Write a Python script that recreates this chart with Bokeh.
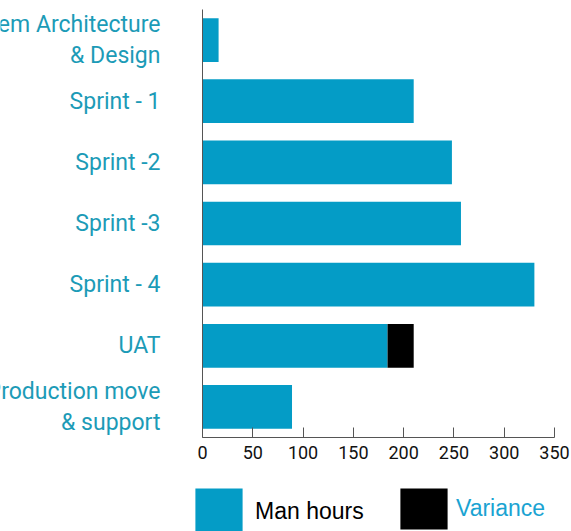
from bokeh.plotting import figure
from bokeh.layouts import column, row
from bokeh.models import (FactorRange, Range1d, ColumnDataSource, LinearAxis,
                          Legend, LegendItem, FixedTicker)
from bokeh.core.properties import value
from bokeh.embed import file_html
from bokeh.resources import INLINE

# ---- data ----
categories = ["System Architecture\n& Design", "Sprint - 1", "Sprint -2",
              "Sprint -3", "Sprint - 4", "UAT", "Production move\n& support"]
man_hours = [16, 210, 248, 257, 330, 184, 89]
variance = [0, 0, 0, 0, 0, 26, 0]
x_ticks = [0, 50, 100, 150, 200, 250, 300, 350]
series_names = ["Man hours", "Variance"]

# ---- style ----
BLUE = "#049CC6"
BLACK = "#000000"
LABEL_TEAL = "#1C9BB7"
VAR_TEXT = "#1AA3D2"
AXIS_GREY = "#555555"
X_START, X_END = 0, 350
LAB_END = 1.0

src = ColumnDataSource(dict(cat=categories, man_hours=man_hours, variance=variance,
                            lx=[LAB_END] * len(categories)))
y_range = FactorRange(factors=list(reversed(categories)))

ROW_H = 470
TOP, BOTTOM = 9, 33
LAB_W = 190

def bare(fig):
    fig.outline_line_color = None
    fig.background_fill_color = "white"
    fig.border_fill_color = "white"
    fig.xgrid.visible = False
    fig.ygrid.visible = False

# ---- category labels (own figure so long texts clip at the page edge) ----
lab = figure(width=LAB_W, height=ROW_H, output_backend="svg", toolbar_location=None,
             title=None, x_range=Range1d(0, LAB_END), y_range=y_range,
             x_axis_location=None, y_axis_location=None,
             min_border_left=0, min_border_right=0,
             min_border_top=TOP, min_border_bottom=BOTTOM)
bare(lab)
lab.text(x="lx", y="cat", text="cat", source=src, x_offset=-30,
         text_align="right", text_baseline="middle",
         text_font=value("Roboto"), text_font_size="23px",
         text_color=LABEL_TEAL, text_line_height=1.15)

# ---- main chart ----
p = figure(width=571 - LAB_W, height=ROW_H, output_backend="svg", toolbar_location=None,
           title=None, y_range=y_range, x_range=Range1d(X_START, X_END),
           y_axis_location=None,
           min_border_left=12, min_border_right=17,
           min_border_top=TOP, min_border_bottom=BOTTOM)
bare(p)
rs = p.hbar_stack(["man_hours", "variance"], y="cat", height=0.715,
                  color=[BLUE, BLACK], line_color=None, source=src)

xa = p.xaxis[0]
xa.ticker = FixedTicker(ticks=x_ticks)
xa.axis_line_color = AXIS_GREY
xa.major_tick_line_color = AXIS_GREY
xa.major_tick_in = 10
xa.major_tick_out = 0
xa.minor_tick_line_color = None
xa.major_label_text_font = "Roboto"
xa.major_label_text_font_size = "18px"
xa.major_label_text_color = "#111111"
xa.major_label_standoff = 8

# vertical axis: line only (category names are drawn beside it)
ya = LinearAxis(ticker=FixedTicker(ticks=[]), axis_line_color=AXIS_GREY,
                major_tick_line_color=None, minor_tick_line_color=None,
                major_tick_out=0, major_tick_in=0, minor_tick_out=0,
                major_label_standoff=0)
p.add_layout(ya, "left")

# ---- legend strip (swatches use the same series styling; bars lie outside its view) ----
leg = figure(width=571, height=531 - ROW_H, output_backend="svg", toolbar_location=None,
             title=None, x_range=Range1d(-2, -1), y_range=FactorRange(factors=categories),
             x_axis_location=None, y_axis_location=None,
             min_border_left=0, min_border_right=0, min_border_top=0, min_border_bottom=0)
bare(leg)
gs = leg.hbar_stack(["man_hours", "variance"], y="cat", height=0.715,
                    color=[BLUE, BLACK], line_color=None, source=src)

leg1 = Legend(items=[LegendItem(label=series_names[0], renderers=[gs[0]])],
              location=(189, -10), orientation="horizontal",
              glyph_width=59, glyph_height=59, label_standoff=7,
              padding=0, margin=0, spacing=0, border_line_color=None,
              background_fill_alpha=0, label_text_font="Liberation Sans",
              label_text_font_size="23px", label_text_color="black")
leg2 = Legend(items=[LegendItem(label=series_names[1], renderers=[gs[1]])],
              location=(394, -3), orientation="horizontal",
              glyph_width=59, glyph_height=51, label_standoff=3,
              padding=0, margin=0, spacing=0, border_line_color=None,
              background_fill_alpha=0, label_text_font="Liberation Sans",
              label_text_font_size="23px", label_text_color=VAR_TEXT)
leg.add_layout(leg1)
leg.add_layout(leg2)

layout = column(row(lab, p, spacing=0), leg, spacing=0)
open("out.html", "w").write(file_html(layout, INLINE))
